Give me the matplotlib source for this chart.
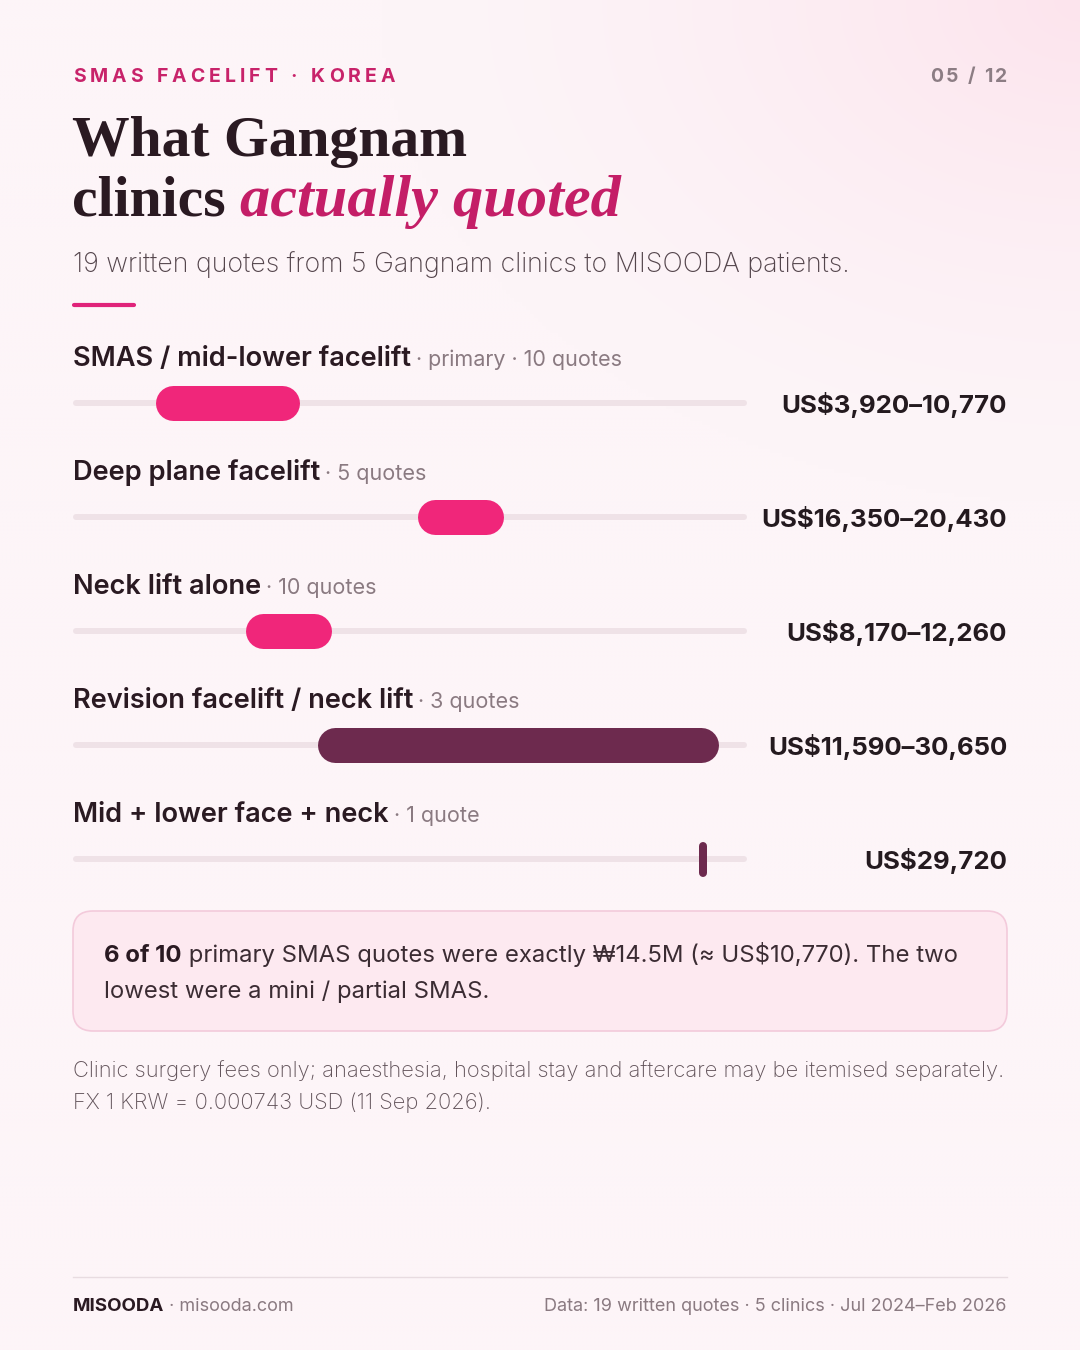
import matplotlib
matplotlib.use("Agg")
import matplotlib.pyplot as plt
import numpy as np
from matplotlib.patches import FancyBboxPatch

# ---------------- data ----------------
categories = ["SMAS / mid-lower facelift", "Deep plane facelift", "Neck lift alone",
              "Revision facelift / neck lift", "Mid + lower face + neck"]
notes = ["primary · 10 quotes", "5 quotes", "10 quotes", "3 quotes", "1 quote"]
low_usd = [3920, 16350, 8170, 11590, 29720]
high_usd = [10770, 20430, 12260, 30650, 29720]
value_labels = ["US$3,920–10,770", "US$16,350–20,430", "US$8,170–12,260",
                "US$11,590–30,650", "US$29,720"]
bar_colors = ["#f0267a", "#f0267a", "#f0267a", "#6d2a4e", "#6d2a4e"]
axis_max = 32000

W, H = 1080, 1350
SANS = ["Inter", "DejaVu Sans"]
SERIF = ["Liberation Serif", "DejaVu Serif"]

fig = plt.figure(figsize=(W / 100, H / 100), dpi=100)
bg = fig.add_axes([0, 0, 1, 1])
bg.set_xlim(0, W)
bg.set_ylim(H, 0)
bg.axis("off")

# background gradient (soft pink glow top-right)
yy, xx = np.mgrid[0:H:4, 0:W:4]
d = np.sqrt(((xx - W) / 700.0) ** 2 + (yy / 500.0) ** 2)
t = np.clip(1 - d, 0, 1) ** 1.5
base = np.array([253, 245, 248]) / 255
glow = np.array([252, 228, 237]) / 255
img = base[None, None, :] * (1 - t[..., None]) + glow[None, None, :] * t[..., None]
bg.imshow(img, extent=[0, W, H, 0], aspect="auto", zorder=0, interpolation="bilinear")

fig.canvas.draw()
R = fig.canvas.get_renderer()


def put(x, y, s, size, color, weight="normal", family=SANS, style="normal", ha="left", va="baseline"):
    return bg.text(x, y, s, fontsize=size, color=color, fontweight=weight, family=family,
                   style=style, ha=ha, va=va, zorder=5)


def width(txt):
    return txt.get_window_extent(renderer=R).width


def spaced(x, y, s, size, color, weight, track, ha="left"):
    tmp = []
    total = 0
    for ch in s:
        tt = put(0, -100, ch, size, color, weight)
        w = width(tt) if ch != " " else size * 100 / 72 * 0.28
        tmp.append(w)
        tt.remove()
        total += w + track
    total -= track
    cx = x - total if ha == "right" else x
    for ch, w in zip(s, tmp):
        put(cx, y, ch, size, color, weight)
        cx += w + track


# kicker + page number
spaced(73, 82, "SMAS FACELIFT · KOREA", 14, "#c8236a", "bold", 4.0)
spaced(1007, 82, "05 / 12", 14, "#8c7d84", "bold", 2.0, ha="right")

# title
put(72, 156, "What Gangnam", 41.5, "#2a1a22", "bold", SERIF)
t1 = put(72, 216, "clinics ", 41.5, "#2a1a22", "bold", SERIF)
put(72 + width(t1), 216, "actually quoted", 43.5, "#c41e67", "bold", SERIF, style="italic")

# subtitle
put(73, 272, "19 written quotes from 5 Gangnam clinics to MISOODA patients.", 19.3, "#54454c", "light")
bg.plot([74, 134], [305, 305], color="#e0237a", lw=3, solid_capstyle="round", zorder=5)

# ---------------- range bars ----------------
row0, step = 403, 114
ax = fig.add_axes([73 / W, 1 - (row0 + 4 * step + step / 2) / H, 674 / W, 5 * step / H])
ax.set_xlim(0, axis_max)
ax.set_ylim(4.5, -0.5)
ax.axis("off")
ax.patch.set_alpha(0)

px_per_x = 674 / axis_max
px_per_y = step
bar_h = 35
min_w = 8
PT = 72 / 100

for i, (lo, hi, c) in enumerate(zip(low_usd, high_usd, bar_colors)):
    # track
    tr = 3 / px_per_x
    ax.plot([tr, axis_max - tr], [i, i], color="#efe2e7", lw=6 * PT, solid_capstyle="round", zorder=1)
    w_px = max((hi - lo) * px_per_x, min_w)
    if w_px >= bar_h:
        r = bar_h / 2 / px_per_x
        ax.plot([lo + r, hi - r], [i, i], color=c, lw=bar_h * PT, solid_capstyle="round", zorder=3)
    else:
        xc = lo + w_px / 2 / px_per_x
        r = (bar_h / 2 - w_px / 2) / px_per_y
        ax.plot([xc, xc], [i - r, i + r], color=c, lw=w_px * PT, solid_capstyle="round", zorder=3)

    yl = row0 + i * step
    lab = put(73, yl - 37, categories[i], 19.6, "#2a1a22", "semibold")
    put(73 + width(lab) + 5, yl - 37, "· " + notes[i], 15.5, "#8a7a81", "normal")
    put(1007, yl + 2, value_labels[i], 18.6, "#241a1f", "bold", ha="right", va="center")

# ---------------- callout ----------------
box = FancyBboxPatch((73, 911), 934, 120, boxstyle="round,pad=0,rounding_size=20",
                     facecolor="#fde9f0", edgecolor="#f3cadb", lw=1.2, zorder=2)
bg.add_patch(box)
b1 = put(104, 962, "6 of 10", 17.2, "#2a1a22", "bold")
put(104 + width(b1), 962, " primary SMAS quotes were exactly ₩14.5M (≈ US$10,770). The two",
    17.2, "#3b2c33", "normal")
put(104, 998, "lowest were a mini / partial SMAS.", 17.2, "#3b2c33", "normal")

# footnote
put(73, 1077, "Clinic surgery fees only; anaesthesia, hospital stay and aftercare may be itemised separately.",
    15.8, "#62535a", "light")
put(73, 1109, "FX 1 KRW = 0.000743 USD (11 Sep 2026).", 15.8, "#62535a", "light")

# footer
bg.plot([73, 1007], [1277, 1277], color="#e8dce1", lw=1, zorder=3)
m = put(73, 1311, "MISOODA", 13.5, "#2a1a22", "bold")
put(73 + width(m), 1311, " · misooda.com", 13, "#8a7a81", "normal")
put(1007, 1311, "Data: 19 written quotes · 5 clinics · Jul 2024–Feb 2026", 13, "#8a7a81", "normal", ha="right")

fig.savefig("out.png", dpi=100)
